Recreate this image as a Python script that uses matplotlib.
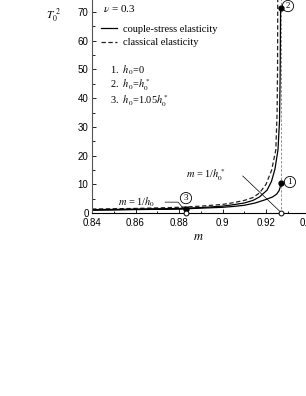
import matplotlib
matplotlib.use("Agg")
import matplotlib.pyplot as plt
from matplotlib.ticker import MultipleLocator

plt.rcParams["font.family"] = ["Liberation Serif", "DejaVu Serif"]
plt.rcParams["mathtext.fontset"] = "stix"

# classical elasticity (dashed)
m_cl = [0.84, 0.86, 0.88, 0.89, 0.90, 0.905, 0.91, 0.914, 0.917, 0.92,
        0.9226, 0.9245, 0.9251, 0.9253, 0.9254]
T_cl = [1.4, 1.6, 2.0, 2.4, 3.0, 3.6, 4.4, 5.4, 7.0, 10.0,
        15.0, 22.0, 35.0, 50.0, 80.0]

# couple-stress, curve 1 (h0 = 0)
m_1 = [0.84, 0.86, 0.88, 0.89, 0.90, 0.905, 0.91, 0.915, 0.9195, 0.923,
       0.9249, 0.926, 0.9265, 0.9267]
T_1 = [1.0, 1.2, 1.4, 1.7, 2.0, 2.3, 2.7, 3.5, 4.6, 5.6,
       6.6, 7.8, 9.0, 10.5]

# couple-stress, curve 2 (h0 = h0*)
m_2 = [0.84, 0.86, 0.88, 0.89, 0.90, 0.905, 0.91, 0.914, 0.917, 0.9205,
       0.9225, 0.9241, 0.9255, 0.9262, 0.9265, 0.9267]
T_2 = [1.1, 1.3, 1.6, 1.9, 2.4, 2.9, 3.5, 4.4, 5.6, 8.0,
       11.0, 15.3, 22.0, 32.0, 48.0, 71.4]

# couple-stress, curve 3 (h0 = 1.05 h0*)
m_3 = [0.84, 0.86, 0.875, 0.8832]
T_3 = [1.2, 1.3, 1.4, 1.5]

m_inv_h0 = 0.8832
m_inv_h0s = 0.9267

x_ticks = [0.84, 0.86, 0.88, 0.90, 0.92, 0.94]
x_labels = ["0.84", "0.86", "0.88", "0.9", "0.92", "0.94"]
y_ticks = [0, 10, 20, 30, 40, 50, 60, 70]

fig = plt.figure(figsize=(3.06, 3.96), dpi=100)
ax = fig.add_axes([0.3007, 0.462, 0.7108, 0.580])

ax.plot(m_cl, T_cl, color="#222222", lw=0.9, dashes=(3.5, 2), label="classical elasticity")
ax.plot(m_1, T_1, color="black", lw=0.9)
ax.plot(m_2, T_2, color="black", lw=0.9, label="couple-stress elasticity")
ax.plot(m_3, T_3, color="black", lw=0.9)

ax.plot([m_inv_h0s, m_inv_h0s], [0, 80], color="gray", lw=0.6, dashes=(3, 2))

# end points
ax.plot([m_1[-1], m_2[-1], m_3[-1]], [T_1[-1], T_2[-1], T_3[-1]], "o",
        color="black", ms=3.5, zorder=5)
ax.plot([m_inv_h0, m_inv_h0s], [0, 0], "o", mfc="white", mec="black",
        ms=3.5, mew=0.7, clip_on=False, zorder=6)

# circled labels
for x, y, s in [(0.9310, 10.8, "1"), (0.9301, 72.1, "2"), (0.8832, 5.2, "3")]:
    ax.text(x, y, s, fontsize=6.5, ha="center", va="center",
            bbox=dict(boxstyle="circle,pad=0.18", fc="white", ec="black", lw=0.6))

# pointers
ax.plot([0.9093, m_inv_h0s], [12.9, 0.35], color="black", lw=0.5)
ax.text(0.8922, 13.2, r"$m$ = 1/$h_0^*$", fontsize=7.5, ha="center", va="center")
ax.plot([0.8736, 0.8796, m_inv_h0], [3.8, 3.8, 0.4], color="black", lw=0.5)
ax.text(0.8607, 3.8, r"$m$ = 1/$h_0$", fontsize=7.5, ha="center", va="center")

ax.text(0.8451, 71.4, r"$\nu$ = 0.3", fontsize=8, ha="left", va="center")
ax.text(0.8482, 49.6, r"1.  $h_0$=0", fontsize=7.5, ha="left", va="center")
ax.text(0.8482, 44.7, r"2.  $h_0$=$h_0^*$", fontsize=7.5, ha="left", va="center")
ax.text(0.8482, 39.0, r"3.  $h_0$=1.05$h_0^*$", fontsize=7.5, ha="left", va="center")

handles, labels = ax.get_legend_handles_labels()
ax.legend(handles[::-1], labels[::-1], loc="upper left", bbox_to_anchor=(0.8443, 65.6),
          bbox_transform=ax.transData, frameon=False, fontsize=7.5,
          handlelength=1.5, handletextpad=0.55, labelspacing=0.4, borderpad=0,
          borderaxespad=0)

ax.text(0.8221, 68.8, r"$T_0^{\ 2}$", fontsize=8, ha="center", va="center", clip_on=False)
ax.text(0.8887, -8.4, r"$m$", fontsize=9, ha="center", va="center", clip_on=False)

ax.set_xlim(0.84, 0.94)
ax.set_ylim(0, 80)
ax.set_xticks(x_ticks)
ax.set_xticklabels(x_labels)
ax.set_yticks(y_ticks)
ax.xaxis.set_minor_locator(MultipleLocator(0.01))
ax.yaxis.set_minor_locator(MultipleLocator(5))
ax.tick_params(which="both", direction="in", labelsize=7, width=0.6)
ax.tick_params(which="major", length=3, pad=2.5)
ax.tick_params(axis="x", which="major", pad=3.5)
ax.tick_params(which="minor", length=1.8)
for lab in ax.get_xticklabels() + ax.get_yticklabels():
    lab.set_family("Liberation Sans")

for side in ["top", "right"]:
    ax.spines[side].set_visible(False)
ax.spines["left"].set_color("#555555")
ax.spines["left"].set_linewidth(0.8)
ax.spines["bottom"].set_linewidth(0.8)

fig.savefig("out.png", dpi=100)
plt.close(fig)
